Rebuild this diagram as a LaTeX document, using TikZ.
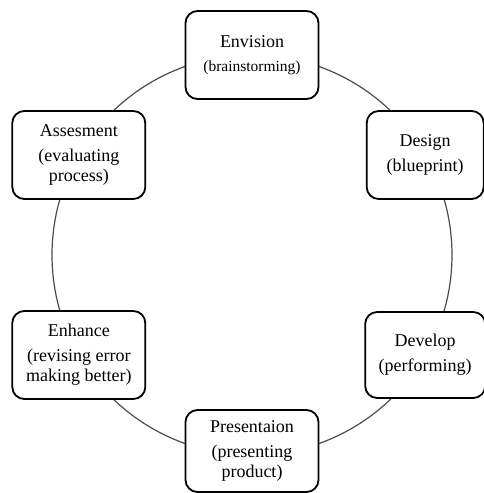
\documentclass[tikz,border=0pt]{standalone}
\usepackage{fontspec}
\setmainfont{Liberation Serif}

\begin{document}
\begin{tikzpicture}[x=1pt, y=1pt,
    phase/.style={draw, line width=1.8pt, rounded corners=12pt, fill=white,
        align=center, inner sep=2pt, minimum width=133pt, minimum height=88pt,
        font=\fontsize{18}{20}\selectfont},
    ring/.style={draw=black!70, line width=1.2pt}]
            \useasboundingbox (0,0) rectangle (484,-493);
            \begin{scope}[shift={(252,-255)}]
            % Tâm và vòng tròn chu trình
            \coordinate (hub) at (0,0);
            \draw[ring] (hub) circle (200);
            
            % Các giai đoạn trên vòng tròn
            \node[phase] (envision) at (90:200) {Envision\\[4pt]\fontsize{15.5}{17}\selectfont (brainstorming)};
            \node[phase, minimum width=117pt] (design) at (30:200) {Design\\[5pt](blueprint)};
            \node[phase, minimum width=120pt, minimum height=86pt] (develop) at (-30:200) {Develop\\[5pt](performing)};
            \node[phase, minimum height=82pt] (present) at (-90:196) {Presentaion\\[5pt](presenting\\product)};
            \node[phase] (enhance) at (210:200) {Enhance\\[5pt](revising error\\making better)};
            \node[phase] (assess) at (150:200) {Assesment\\[5pt](evaluating\\process)};
            \end{scope}
        \end{tikzpicture}
\end{document}
